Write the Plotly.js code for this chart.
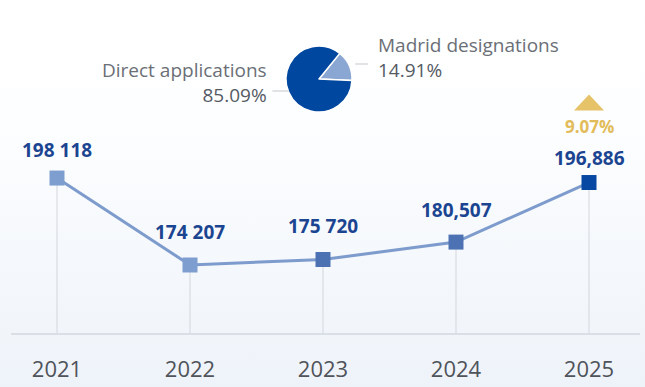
<!DOCTYPE html>
<html>
<head>
<meta charset="utf-8">
<script src="https://cdn.plot.ly/plotly-3.0.1.min.js"></script>
<style>
html,body{margin:0;padding:0;}
body{background:linear-gradient(to bottom,#ffffff 0%,#fdfeff 30%,#eef3f9 100%);width:645px;height:387px;overflow:hidden;}
#chart{width:645px;height:387px;}
</style>
</head>
<body>
<div id="chart"></div>
<script>
// ---- data ----
var years = ['2021', '2022', '2023', '2024', '2025'];
var applications = [198118, 174207, 175720, 180507, 196886];
var valueLabels = ['198 118', '174 207', '175 720', '180,507', '196,886'];
var markerColors = ['#7e9ed0', '#7e9ed0', '#4c72b4', '#4c72b4', '#0748a2'];
var growthLabel = '9.07%';

var pieLabels = ['Madrid designations', 'Direct applications'];
var pieValues = [14.91, 85.09];
var pieColors = ['#8aa6d2', '#0047a0'];

// ---- layout settings ----
var yMin = 155507, yMax = 230582;
var labelOffsets = [28, 33, 34, 32, 25];   // px above each marker
var FONT = 'Open Sans, Noto Sans, sans-serif';

var traces = [
  {
    type: 'scatter', mode: 'lines+markers',
    x: years, y: applications,
    line: {color: '#7d9bcc', width: 3},
    marker: {symbol: 'square', size: 15, color: markerColors},
    error_y: {
      type: 'data', symmetric: false,
      array: applications.map(function(){return 0;}),
      arrayminus: applications.map(function(v){return v - yMin;}),
      color: '#d3d6dc', thickness: 1, width: 0
    },
    hoverinfo: 'skip', showlegend: false, cliponaxis: false
  },
  {
    type: 'pie', labels: pieLabels, values: pieValues,
    marker: {colors: pieColors, line: {color: '#ffffff', width: 1.5}},
    sort: false, direction: 'clockwise', rotation: 39,
    textinfo: 'none', hoverinfo: 'skip', showlegend: false,
    domain: {x: [0.4372, 0.5421], y: [0.7106, 0.8811]}
  }
];

var annotations = years.map(function(yr, i){
  return {
    x: i, y: applications[i], xref: 'x', yref: 'y',
    text: '<b>' + valueLabels[i] + '</b>', showarrow: false, yshift: labelOffsets[i],
    font: {family: FONT, size: 19, color: '#1b4591'}
  };
});
var last = years.length - 1;
annotations.push({
  x: last, y: applications[last], xref: 'x', yref: 'y',
  text: '<b>' + growthLabel + '</b>', showarrow: false, yshift: 56,
  font: {family: FONT, size: 17, color: '#e2bc5a'}
});
function pieText(i, xpx, ypx, anchor){
  return {xref: 'paper', yref: 'paper', x: xpx/645, y: 1 - ypx/387,
    xanchor: anchor, yanchor: 'middle', align: anchor, showarrow: false,
    text: pieLabels[i] + '<br><span style="color:#555a63">' + pieValues[i].toFixed(2) + '%</span>',
    font: {family: FONT, size: 19, color: '#6b6f76'}};
}
annotations.push(pieText(0, 374, 57, 'left'));
annotations.push(pieText(1, 265, 83, 'right'));

var shapes = [
  {type: 'path', xref: 'x', yref: 'y', xsizemode: 'pixel', ysizemode: 'pixel',
   xanchor: last, yanchor: applications[last],
   path: 'M -15,72 L 15,72 L 0,88 Z', fillcolor: '#e6c268', line: {width: 0}},
  {type: 'line', xref: 'paper', yref: 'paper', x0: 353/645, x1: 366/645,
   y0: 1 - 64/387, y1: 1 - 64/387, line: {color: '#c4c7cc', width: 1}},
  {type: 'line', xref: 'paper', yref: 'paper', x0: 268/645, x1: 285/645,
   y0: 1 - 91/387, y1: 1 - 91/387, line: {color: '#c4c7cc', width: 1}}
];

var layout = {
  width: 645, height: 387,
  margin: {l: 11, r: 5, t: 0, b: 0},
  paper_bgcolor: 'rgba(0,0,0,0)', plot_bgcolor: 'rgba(0,0,0,0)',
  xaxis: {
    type: 'category', range: [-0.3459, 4.3835],
    showgrid: false, zeroline: false,
    showline: true, linecolor: '#dadee5', linewidth: 2,
    ticks: '', ticklabelstandoff: 16,
    tickfont: {family: FONT, size: 22, color: '#4f535a', stretch: 'semi-condensed'},
    fixedrange: true
  },
  yaxis: {
    domain: [54/387, 327/387], range: [yMin, yMax],
    showgrid: false, zeroline: false, showline: false, showticklabels: false, ticks: '',
    fixedrange: true
  },
  annotations: annotations,
  shapes: shapes,
  font: {family: FONT}
};

Plotly.newPlot('chart', traces, layout, {displayModeBar: false, staticPlot: true});
</script>
</body>
</html>
